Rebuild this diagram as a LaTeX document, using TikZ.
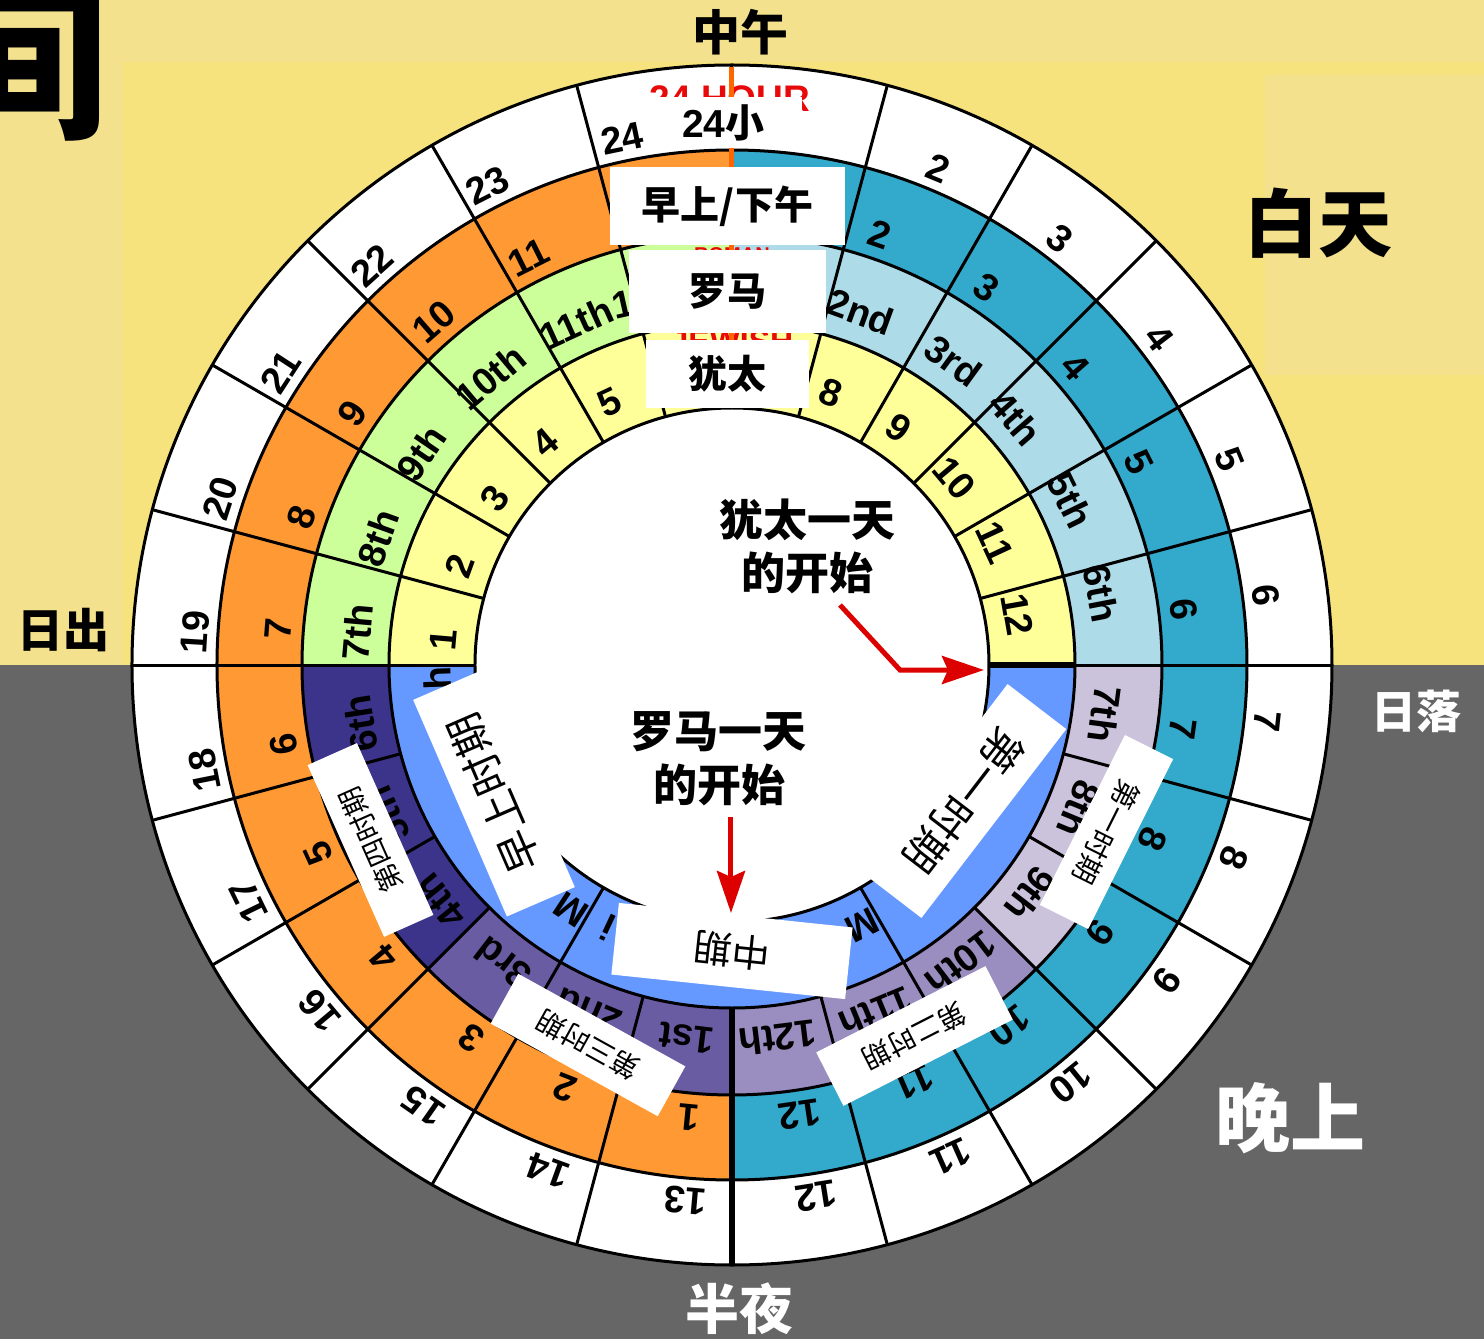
\documentclass[tikz,border=0pt]{standalone}
\usepackage{fontspec}
\setmainfont{Liberation Sans}
\newfontfamily\cjk{Noto Sans CJK SC}
\usetikzlibrary{arrows.meta}
\definecolor{paleY}{RGB}{243,225,141}
\definecolor{innerY}{RGB}{246,227,126}
\definecolor{grayB}{RGB}{102,102,102}
\definecolor{orng}{RGB}{255,153,51}
\definecolor{tealB}{RGB}{51,170,204}
\definecolor{grn}{RGB}{204,255,153}
\definecolor{lblue}{RGB}{173,220,232}
\definecolor{ylw}{RGB}{255,255,153}
\definecolor{nblue}{RGB}{102,153,255}
\definecolor{navyB}{RGB}{59,52,138}
\definecolor{purpB}{RGB}{106,92,163}
\definecolor{purpC}{RGB}{154,141,192}
\definecolor{lav}{RGB}{203,195,219}
\definecolor{redA}{RGB}{221,0,0}
\definecolor{redT}{RGB}{232,10,10}
\definecolor{orLine}{RGB}{255,102,0}
\newcommand\annsec[5]{\fill[#1] (#2:#4) -- (#2:#5) arc[start angle=#2,end angle=#3,radius=#5] -- (#3:#4) arc[start angle=#3,end angle=#2,radius=#4] -- cycle;}
\tikzset{
 ln/.style={line width=3pt},
 lab/.style={font=\bfseries\fontsize{38}{38}\selectfont, inner sep=0pt},
 topbox/.style={fill=white, inner sep=0pt, font=\cjk\bfseries\fontsize{39}{39}\selectfont},
 perbox/.style={fill=white, inner sep=0pt, font=\cjk\fontsize{28}{28}\selectfont},
 bigper/.style={fill=white, inner sep=0pt, font=\cjk\fontsize{42}{42}\selectfont},
 ctr/.style={font=\cjk\bfseries\fontsize{44}{44}\selectfont, inner sep=0pt},
 redarrow/.style={draw=redA, line width=5pt, -{Stealth[length=42pt,width=28pt,inset=6pt]}},
}
\begin{document}
\begin{tikzpicture}[x=1pt,y=1pt]
\useasboundingbox (-732,-674) rectangle (752,665);
\clip (-732,-674) rectangle (752,665);
% background
\fill[paleY] (-732,0) rectangle (752,665);
\fill[innerY] (-609,0) rectangle (752,603);
\fill[paleY] (533,290) rectangle (752,590);
\fill[grayB] (-732,-674) rectangle (752,0);
% rings
\annsec{white}{0}{360}{515pt}{600pt}
\annsec{orng}{90}{270}{430pt}{515pt}
\annsec{tealB}{-90}{90}{430pt}{515pt}
\annsec{grn}{90}{180}{343pt}{430pt}
\annsec{lblue}{0}{90}{343pt}{430pt}
\annsec{lav}{-45}{0}{343pt}{430pt}
\annsec{purpC}{-90}{-45}{343pt}{430pt}
\annsec{purpB}{-135}{-90}{343pt}{430pt}
\annsec{navyB}{-180}{-135}{343pt}{430pt}
\annsec{ylw}{0}{180}{257pt}{343pt}
\annsec{nblue}{180}{360}{257pt}{343pt}
\fill[white] (0,0) circle[radius=257pt];
% lines
\foreach \r in {257,343,430,515,600} \draw[ln] (0,0) circle[radius=\r pt];
\foreach \a in {0,15,...,345} \draw[ln] (\a:343pt) -- (\a:600pt);
\foreach \a in {0,15,...,180} \draw[ln] (\a:257pt) -- (\a:343pt);
\foreach \a in {-60,-120} \draw[ln] (\a:257pt) -- (\a:343pt);
\draw[line width=6pt] (0:257pt) -- (0:343pt);
\draw[line width=6pt] (-90:343pt) -- (-90:600pt);
% ring labels
\foreach \a/\t [count=\i] in {85.5/1,67.5/2,52.5/3,37.5/4,22.5/5,7.5/6,-6/7,-21/8,-36/9,-51/10,-66/11,-81/12,-95/13,-110/14,-125/15,-140/16,-154/17,-168.7/18,176.5/19,162/20,147/21,132/22,117/23,101.8/24}
  \node[lab, rotate=\a-90] (ra\i) at (\a:538pt) {\t};
\foreach \a/\t [count=\i] in {86/1,71/2,56/3,41/4,26.5/5,7/6,-8/7,-22.5/8,-36/9,-52.5/10,-66.5/11,-81.5/12,-95.5/1,-111.5/2,-125/3,-140/4,-155.5/5,-170/6,175.5/7,161/8,146.5/9,131/10,116.5/11,100.5/12}
  \node[lab, rotate=\a-90] (rb\i) at (\a:455pt) {\t};
\foreach \a/\t [count=\i] in {84/1st,70/2nd,54/3rd,41/4th,26/5th,11/6th,-7.5/7th,-22.5/8th,-37.5/9th,-52.5/10th,-67.5/11th,-83/12th,-97/1st,-112.5/2nd,-127.5/3rd,-141/4th,-156.5/5th,-171/6th,175/7th,160.3/8th,145.7/9th,130/10th,114.5/11th,102.5/12th}
  \node[lab, rotate=\a-90] (rc\i) at (\a:376pt) {\t};
\foreach \a/\t [count=\i] in {175/1,160/2,145/3,130/4,115/5,100/6,85/7,70/8,55/9,40/10,25/11,10/12}
  \node[lab, rotate=\a-90] (rd\i) at (\a:290pt) {\t};
% fragments in night ring
\node[lab, rotate=92] (fh) at (-295,-13) {h};
\node[lab, rotate=146.7] (fm1) at (-161,-245) {M};
\node[lab, rotate=154.8] (fi) at (-124,-263) {i};
\node[lab, rotate=-153.4] (fm2) at (130,-260) {M};
% red titles under boxes
\node[text=redT, inner sep=0pt, anchor=base, font=\bfseries\fontsize{37}{37}\selectfont] (r24) at (-2,553.5) {24 HOUR};
\node[text=redT, inner sep=0pt, anchor=base, font=\bfseries\fontsize{20}{20}\selectfont] (rrom) at (0,403) {ROMAN};
\node[text=redT, inner sep=0pt, anchor=base, font=\bfseries\fontsize{32}{32}\selectfont] (rjew) at (0,312) {JEWISH};
\draw[orLine, line width=5pt] (90:257pt) -- (90:598pt);
% top boxes
\node[topbox, minimum width=157pt, minimum height=51pt] (b24) at (-8.5,542.5) {{\rmfamily 24}小};
\node[topbox, minimum width=235pt, minimum height=78pt] (bam) at (-4.5,459) {早上/下午};
\node[topbox, minimum width=197pt, minimum height=83pt] (brm) at (-4.5,373.5) {罗马};
\node[topbox, minimum width=163pt, minimum height=68pt] (bjw) at (-4.5,291) {犹太};
% watch boxes
\node[perbox, rotate=114, minimum width=188pt, minimum height=54pt] (w4) at (-361.5,-175) {第四时期};
\node[perbox, rotate=151, minimum width=191pt, minimum height=57pt] (w3) at (-144,-380) {第三时期};
\node[perbox, rotate=-153, minimum width=190pt, minimum height=60pt] (w2) at (182.5,-371) {第二时期};
\node[perbox, rotate=-116.6, minimum width=190pt, minimum height=54pt] (w1) at (374.5,-167) {第一时期};
\node[bigper, rotate=113.4, minimum width=236pt, minimum height=74pt] (jm) at (-238,-128.5) {早上时期};
\node[bigper, rotate=-127.5, minimum width=238pt, minimum height=74pt] (jf) at (232.5,-136) {第一时期};
\node[bigper, font=\cjk\fontsize{38}{38}\selectfont, rotate=174, minimum width=235pt, minimum height=72pt] (jmid) at (0,-286) {中期};
% centre texts and arrows
\node[ctr] (jw1) at (76,145) {犹太一天};
\node[ctr] (jw2) at (76,92) {的开始};
\node[ctr] (rm1) at (-13,-67) {罗马一天};
\node[ctr] (rm2) at (-12,-120) {的开始};
\coordinate (a1s) at (108,60);
\coordinate (a1c) at (168,-5);
\coordinate (a1t) at (252,-5);
\draw[redarrow] (a1s) -- (a1c) -- (a1t);
\coordinate (a2s) at (-1,-152);
\coordinate (a2t) at (-1,-248);
\draw[redarrow] (a2s) -- (a2t);
% outside labels
\node[inner sep=0pt, font=\cjk\bfseries\fontsize{170}{170}\selectfont] (jian) at (-709,603) {间};
\node[inner sep=0pt, font=\cjk\bfseries\fontsize{48}{48}\selectfont] (noon) at (9,633) {中午};
\node[inner sep=0pt, font=\cjk\bfseries\fontsize{74}{74}\selectfont] (day) at (586,442) {白天};
\node[inner sep=0pt, font=\cjk\bfseries\fontsize{46}{46}\selectfont] (rise) at (-668,35) {日出};
\node[inner sep=0pt, text=white, font=\cjk\bfseries\fontsize{45}{45}\selectfont] (set) at (684,-46) {日落};
\node[inner sep=0pt, text=white, font=\cjk\bfseries\fontsize{75}{75}\selectfont] (night) at (558,-453) {晚上};
\node[inner sep=0pt, text=white, font=\cjk\bfseries\fontsize{54}{54}\selectfont] (midn) at (8,-644) {半夜};
\end{tikzpicture}
\end{document}
